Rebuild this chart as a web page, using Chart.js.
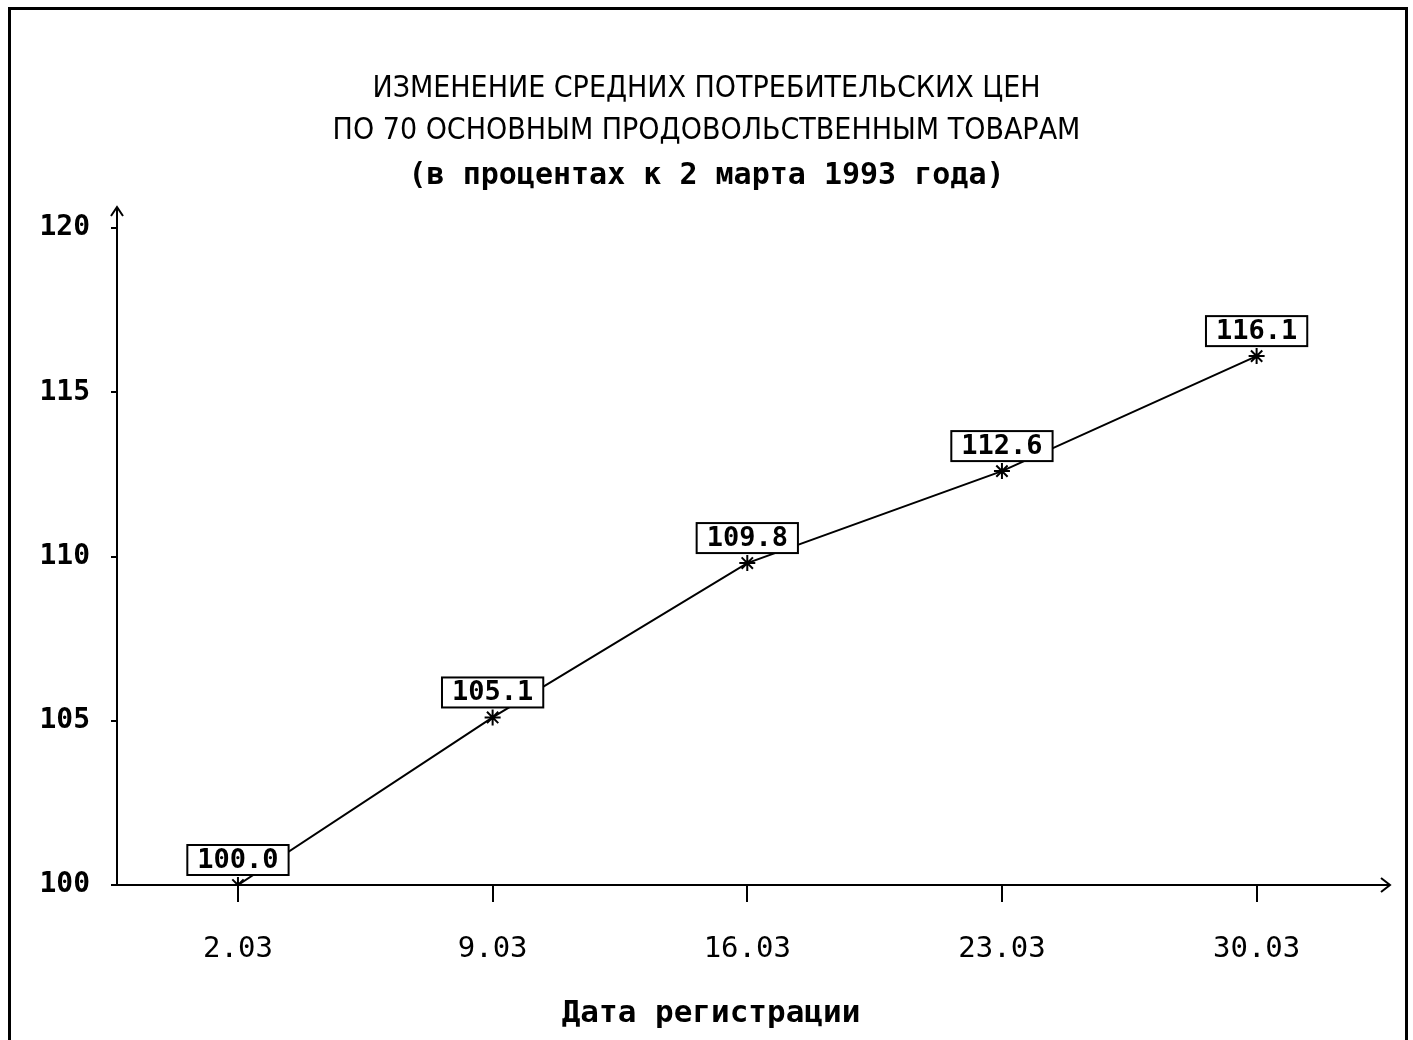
<!DOCTYPE html>
<html>
<head>
<meta charset="utf-8">
<script src="https://cdn.jsdelivr.net/npm/chart.js@4.4.1/dist/chart.umd.min.js"></script>
<style>
  html, body { margin: 0; padding: 0; background: #fff; }
  #wrap { position: relative; width: 1413px; height: 1040px; overflow: hidden; }
  #frame {
    position: absolute; left: 8px; top: 7px; width: 1394px; height: 1040px;
    border: 3px solid #000; border-bottom: none; pointer-events: none;
  }
</style>
</head>
<body>
<div id="wrap">
  <canvas id="chart" width="1413" height="1040"></canvas>
  <div id="frame"></div>
</div>
<script>
// --- Datos ---
const fechas = ['2.03', '9.03', '16.03', '23.03', '30.03'];
const indicePrecios = [100.0, 105.1, 109.8, 112.6, 116.1];
const yMin = 100;
const yMax = 120;
const yPaso = 5;

const tituloLineas = [
  'ИЗМЕНЕНИЕ СРЕДНИХ ПОТРЕБИТЕЛЬСКИХ ЦЕН',
  'ПО 70 ОСНОВНЫМ ПРОДОВОЛЬСТВЕННЫМ ТОВАРАМ'
];
const subtitulo = '(в процентах к 2 марта 1993 года)';
const tituloEjeX = 'Дата регистрации';

// --- Flechas de los ejes ---
const flechasEjes = {
  id: 'flechasEjes',
  afterDraw(chart) {
    const { ctx, chartArea } = chart;
    const xEnd = chart.width - 23;
    const yEnd = chartArea.top - 21;
    ctx.save();
    ctx.strokeStyle = '#000';
    ctx.lineWidth = 2;
    ctx.beginPath();
    // eje Y hacia arriba
    ctx.moveTo(chartArea.left, chartArea.top);
    ctx.lineTo(chartArea.left, yEnd);
    ctx.moveTo(chartArea.left - 6, yEnd + 9);
    ctx.lineTo(chartArea.left, yEnd);
    ctx.lineTo(chartArea.left + 6, yEnd + 9);
    // eje X hacia la derecha
    ctx.moveTo(chartArea.right, chartArea.bottom);
    ctx.lineTo(xEnd, chartArea.bottom);
    ctx.moveTo(xEnd - 9, chartArea.bottom - 7);
    ctx.lineTo(xEnd, chartArea.bottom);
    ctx.lineTo(xEnd - 9, chartArea.bottom + 7);
    ctx.stroke();
    ctx.restore();
  }
};

// --- Etiquetas con recuadro sobre cada punto ---
const etiquetasValor = {
  id: 'etiquetasValor',
  afterDatasetsDraw(chart) {
    const { ctx } = chart;
    const meta = chart.getDatasetMeta(0);
    ctx.save();
    ctx.font = 'bold 27px "DejaVu Sans Mono"';
    ctx.textAlign = 'center';
    ctx.textBaseline = 'middle';
    meta.data.forEach((pt, i) => {
      const texto = indicePrecios[i].toFixed(1);
      const w = ctx.measureText(texto).width + 20;
      const h = 30;
      const cx = pt.x;
      const bottom = pt.y - 10;
      ctx.fillStyle = '#fff';
      ctx.fillRect(cx - w / 2, bottom - h, w, h);
      ctx.strokeStyle = '#000';
      ctx.lineWidth = 2;
      ctx.strokeRect(cx - w / 2, bottom - h, w, h);
      ctx.fillStyle = '#000';
      ctx.fillText(texto, cx, bottom - h / 2 + 1);
    });
    ctx.restore();
  }
};

const ctx = document.getElementById('chart').getContext('2d');
new Chart(ctx, {
  type: 'line',
  data: {
    datasets: [{
      data: indicePrecios.map((v, i) => ({ x: i, y: v })),
      borderColor: '#000',
      borderWidth: 2,
      tension: 0,
      fill: false,
      pointStyle: 'star',
      pointRadius: 8,
      pointBorderWidth: 2,
      pointBorderColor: '#000',
      pointBackgroundColor: '#000'
    }]
  },
  options: {
    responsive: false,
    animation: false,
    layout: { padding: 0 },
    plugins: {
      legend: { display: false },
      tooltip: { enabled: false },
      title: {
        display: true,
        text: tituloLineas,
        color: '#000',
        font: { family: '"Liberation Sans Narrow", "DejaVu Sans Condensed", sans-serif', size: 30, weight: 'normal', lineHeight: 1.4 },
        padding: { top: 68, bottom: 0 }
      },
      subtitle: {
        display: true,
        text: subtitulo,
        color: '#000',
        font: { family: '"DejaVu Sans Mono", monospace', size: 30, weight: 'bold', lineHeight: 1.2 },
        padding: { top: 6, bottom: 34 }
      }
    },
    scales: {
      x: {
        type: 'linear',
        min: -0.475,
        max: 4.19,
        afterFit(scale) { scale.height = 155; },
        border: { display: true, color: '#000', width: 2 },
        grid: { drawOnChartArea: false, drawTicks: true, tickLength: 17, color: '#000', lineWidth: 2 },
        ticks: {
          stepSize: 1,
          includeBounds: false,
          color: '#000',
          padding: 30,
          font: { family: '"DejaVu Sans Mono", monospace', size: 29 },
          callback: (v) => fechas[v] !== undefined ? fechas[v] : ''
        },
        title: {
          display: true,
          text: tituloEjeX,
          color: '#000',
          font: { family: '"DejaVu Sans Mono", monospace', size: 31, weight: 'bold' },
          padding: { top: 0, bottom: 7 }
        }
      },
      y: {
        min: yMin,
        max: yMax,
        afterFit(scale) { scale.width = 117; },
        border: { display: true, color: '#000', width: 2 },
        grid: { drawOnChartArea: false, drawTicks: true, tickLength: 6, color: '#000', lineWidth: 2 },
        ticks: {
          stepSize: yPaso,
          color: '#000',
          padding: 21,
          font: { family: '"DejaVu Sans Mono", monospace', size: 28, weight: 'bold' }
        }
      },
      // eje vacío a la derecha: solo reserva espacio para la flecha del eje X
      margenDerecho: {
        type: 'linear',
        position: 'right',
        display: true,
        afterFit(scale) { scale.width = 108; },
        border: { display: false },
        grid: { display: false },
        ticks: { display: false }
      }
    }
  },
  plugins: [flechasEjes, etiquetasValor]
});
</script>
</body>
</html>
